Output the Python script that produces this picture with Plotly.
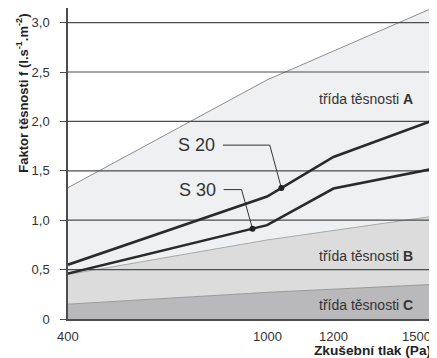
import numpy as np
import plotly.graph_objects as go

# ---- data ----
pressure = [400, 1000, 1500]           # Pa, class boundary points
class_a = [1.33, 2.42, 3.15]
class_b = [0.45, 0.80, 1.04]
class_c = [0.15, 0.27, 0.35]

s_pressure = [400, 1000, 1200, 1500]
s20 = [0.55, 1.24, 1.64, 2.01]
s30 = [0.46, 0.95, 1.32, 1.52]

y_ticks = [0, 0.5, 1.0, 1.5, 2.0, 2.5, 3.0]
y_ticktext = ["0", "0,5", "1,0", "1,5", "2,0", "2,5", "3,0"]
x_ticks = [400, 1000, 1200, 1500]
x_ticktext = ["400", "1000", "1200", "1500"]

# callouts: label position, leader elbow, marker pressure
s20_label = (867, 1.76)
s20_elbow = (1008, 1.76)
s20_mark_p = 1043
s30_label = (869, 1.31)
s30_elbow = (923, 1.31)
s30_mark_p = 956

class_labels = [("třída těsnosti <b>A</b>", 2.23),
                ("třída těsnosti <b>B</b>", 0.64),
                ("třída těsnosti <b>C</b>", 0.14)]

FONT = "Liberation Sans, Arial, sans-serif"
TXT = "#333333"

fig = go.Figure()
# class fills
fig.add_trace(go.Scatter(x=pressure, y=class_c, mode="lines", fill="tozeroy",
                         fillcolor="#b9b9bb", line=dict(color="#9a9a9a", width=1)))
fig.add_trace(go.Scatter(x=pressure, y=class_b, mode="lines", fill="tonexty",
                         fillcolor="#dcdcdd", line=dict(color="#a8a8a8", width=1)))
fig.add_trace(go.Scatter(x=pressure, y=class_a, mode="lines", fill="tonexty",
                         fillcolor="#eff0f1", line=dict(color="#8c8c8c", width=1)))
# grid lines on top of fills
for v in y_ticks[1:]:
    fig.add_trace(go.Scatter(x=[x_ticks[0], x_ticks[-1]], y=[v, v], mode="lines",
                             line=dict(color="#4d4d4d", width=1.2)))
# series
for ys in (s20, s30):
    fig.add_trace(go.Scatter(x=s_pressure, y=ys, mode="lines",
                             line=dict(color="#2a2a2a", width=2.6)))
# leaders and markers
for lab, elb, mp, ys in ((s20_label, s20_elbow, s20_mark_p, s20),
                         (s30_label, s30_elbow, s30_mark_p, s30)):
    my = float(np.interp(mp, s_pressure, ys))
    fig.add_trace(go.Scatter(x=[lab[0], elb[0], mp], y=[lab[1], elb[1], my], mode="lines",
                             line=dict(color="#333333", width=1)))
    fig.add_trace(go.Scatter(x=[mp], y=[my], mode="markers",
                             marker=dict(color="#222222", size=6)))

fig.add_annotation(x=s20_label[0], y=s20_label[1], text="S 20", showarrow=False,
                   xanchor="right", xshift=-6, font=dict(size=18, color=TXT, family=FONT))
fig.add_annotation(x=s30_label[0], y=s30_label[1], text="S 30", showarrow=False,
                   xanchor="right", xshift=-6, font=dict(size=18, color=TXT, family=FONT))
for txt, yv in class_labels:
    fig.add_annotation(x=1445, y=yv, text=txt, showarrow=False, xanchor="right",
                       font=dict(size=14, color=TXT, family=FONT))

# x tick labels
for xv, t in zip(x_ticks, x_ticktext):
    fig.add_annotation(x=xv, y=0, yref="y", text=t, showarrow=False,
                       xanchor="right" if xv == x_ticks[-1] else "center",
                       yanchor="top", yshift=-8,
                       font=dict(size=13, color=TXT, family=FONT))
# axis titles
fig.add_annotation(x=1, xref="paper", y=0, yref="y", text="<b>Zkušební tlak (Pa)</b>",
                   showarrow=False, xanchor="right", yanchor="top", yshift=-22,
                   font=dict(size=13.7, color="#222222", family=FONT))
fig.add_annotation(x=0, xref="paper", xshift=-46, y=2.28, yref="y",
                   xanchor="center", yanchor="middle",
                   text="<b>Faktor těsnosti f (l.s<sup>-1</sup>.m<sup>-2</sup>)</b>",
                   showarrow=False, textangle=-90,
                   font=dict(size=13, color="#222222", family=FONT))

# the page body adds an 8px offset; figure is sized to compensate
fig.update_layout(
    width=429, height=350, showlegend=False,
    margin=dict(l=60, r=4, t=0, b=39, pad=0),
    plot_bgcolor="white", paper_bgcolor="white",
    font=dict(family=FONT, color=TXT),
)
fig.update_xaxes(range=[400, 1500], showgrid=False, zeroline=False,
                 showticklabels=False, ticks="", showline=True,
                 linecolor="#4d4d4d", linewidth=2, mirror=False)
fig.update_yaxes(range=[0, 3.148], showgrid=False, zeroline=False,
                 tickvals=y_ticks, ticktext=y_ticktext, ticks="outside",
                 ticklen=6, tickcolor="#4d4d4d", tickwidth=1.2,
                 showline=True, linecolor="#4d4d4d", linewidth=1.5,
                 tickfont=dict(size=13, color=TXT, family=FONT),
                 ticklabelstandoff=8)

fig.write_html("out.html")
